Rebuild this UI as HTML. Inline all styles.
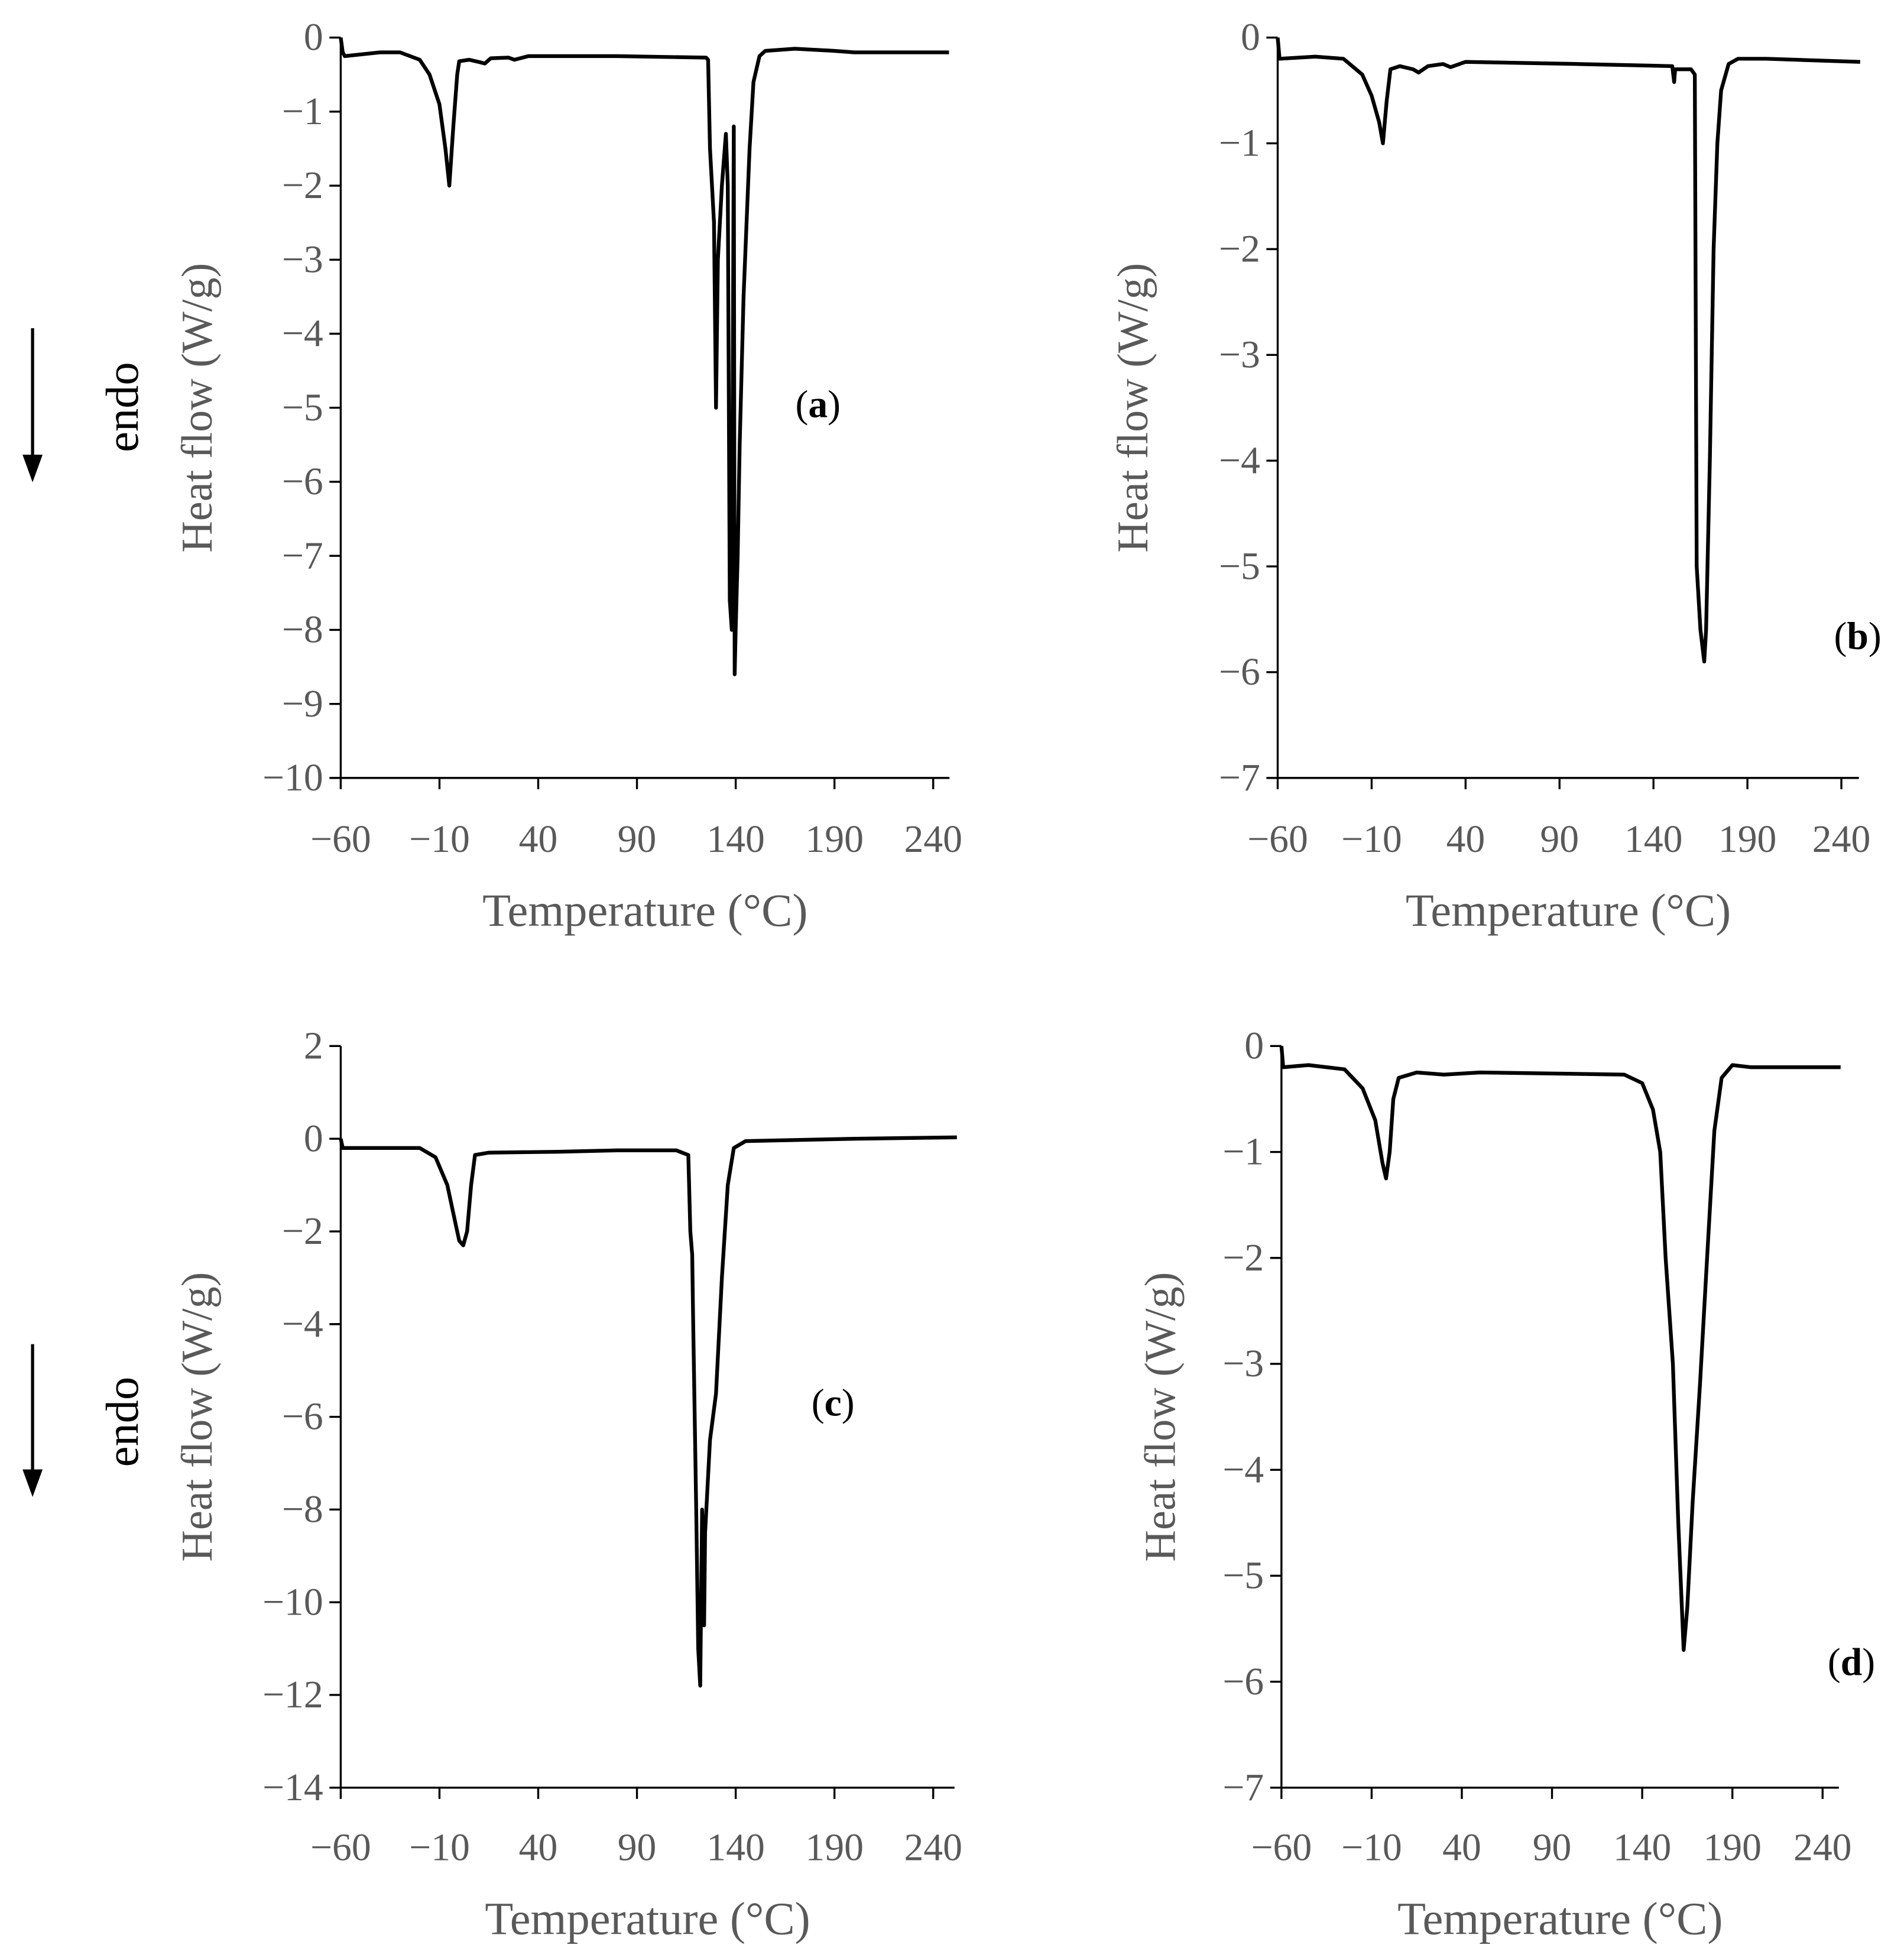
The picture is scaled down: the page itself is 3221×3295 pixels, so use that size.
<!DOCTYPE html>
<html><head><meta charset="utf-8"><style>
html,body{margin:0;padding:0;background:#fff;}
svg{display:block;}
text{font-family:"Liberation Serif",serif;}
</style></head><body>
<svg id="fig" width="3221" height="3295" viewBox="0 0 1520 1555" preserveAspectRatio="none" xmlns="http://www.w3.org/2000/svg"></svg>
<script>
// ---- data (temperature °C, heat flow W/g) ----
const xTicks = [-60,-10,40,90,140,190,240];
const aT = [-60,-59,-58,-40,-30,-20,-15,-10,-7,-5,-3,-1,0,5,10,13,16,25,28,35,80,125,126,127,129,130,131,133,135,136,137,138,139,139.5,140,141,142,144,147,149,152,155,170,190,200,248];
const aY = [0,-0.2,-0.25,-0.2,-0.2,-0.3,-0.5,-0.9,-1.5,-2.0,-1.2,-0.5,-0.32,-0.3,-0.33,-0.35,-0.28,-0.27,-0.3,-0.25,-0.25,-0.27,-0.3,-1.5,-2.5,-5.0,-3.0,-2.0,-1.3,-2.0,-7.6,-8.0,-1.2,-8.6,-8.0,-7.0,-5.5,-3.5,-1.5,-0.6,-0.25,-0.18,-0.15,-0.18,-0.2,-0.2];
const bT = [-60,-59,-40,-25,-15,-10,-6,-4,-2,0,5,12,15,20,28,32,40,100,150,151,151.5,160,162,163,165,167,168,170,172,174,176,180,185,200,250];
const bY = [0,-0.2,-0.18,-0.2,-0.35,-0.55,-0.8,-1.0,-0.6,-0.3,-0.27,-0.3,-0.33,-0.27,-0.25,-0.28,-0.23,-0.25,-0.27,-0.42,-0.3,-0.3,-0.35,-5.0,-5.6,-5.9,-5.6,-4.0,-2.0,-1.0,-0.5,-0.25,-0.2,-0.2,-0.23];
const cT = [-60,-59,-40,-20,-12,-6,-2,0,2,4,6,8,15,50,80,110,116,117,118,118.5,120,121,122,123,124,124.5,127,130,133,136,139,145,200,252];
const cY = [0,-0.2,-0.2,-0.2,-0.4,-1.0,-1.8,-2.2,-2.3,-2.0,-1.0,-0.35,-0.3,-0.28,-0.25,-0.25,-0.35,-2.0,-2.5,-4,-8,-11,-11.8,-8,-10.5,-8.5,-6.5,-5.5,-3,-1,-0.2,-0.05,0,0.03];
const dT = [-60,-59,-45,-25,-15,-8,-4,-2,0,2,5,15,30,50,130,140,146,150,153,157,160,163,165,168,172,176,180,184,190,200,250];
const dY = [0,-0.2,-0.18,-0.22,-0.4,-0.7,-1.1,-1.25,-1.0,-0.5,-0.3,-0.25,-0.27,-0.25,-0.27,-0.35,-0.6,-1.0,-2,-3,-4.5,-5.7,-5.3,-4.3,-3.2,-2,-0.8,-0.3,-0.18,-0.2,-0.2];
const aTicksY = [0,-1,-2,-3,-4,-5,-6,-7,-8,-9,-10];
const bTicksY = [0,-1,-2,-3,-4,-5,-6,-7];
const cTicksY = [2,0,-2,-4,-6,-8,-10,-12,-14];
const dTicksY = [0,-1,-2,-3,-4,-5,-6,-7];

const NS='http://www.w3.org/2000/svg';
const svg=document.getElementById('fig');
function mk(tag,attrs,parent){const e=document.createElementNS(NS,tag);for(const k in attrs)e.setAttribute(k,attrs[k]);(parent||svg).appendChild(e);return e;}
function fmt(v){return v<0?'\u2212'+Math.abs(v):String(v);}

const panels=[
 {id:'a',T:aT,Y:aY,yt:aTicksY,x0:272,x240:745,xEnd:758,yTop:30,yBot:621,ytx:158,label:[653,323],endo:true,ey:325,ay:[262,385],tty:727,tlx:670},
 {id:'b',T:bT,Y:bY,yt:bTicksY,x0:1020,x240:1470,xEnd:1484,yTop:30,yBot:621,ytx:905,label:[1483,508],endo:false,tty:727,tlx:670},
 {id:'c',T:cT,Y:cY,yt:cTicksY,x0:272,x240:745,xEnd:762,yTop:835,yBot:1427,ytx:158,label:[665,1120],endo:true,ey:1135,ay:[1073,1195],tty:1532,tlx:1475},
 {id:'d',T:dT,Y:dY,yt:dTicksY,x0:1023,x240:1455,xEnd:1468,yTop:835,yBot:1427,ytx:927,label:[1478,1327],endo:false,tty:1532,tlx:1475}
];
panels.forEach(p=>{
  const g=mk('g',{});
  
  
  const ymax=p.yt[0], ymin=p.yt[p.yt.length-1];
  const sx=t=>p.x0+(t+60)*(p.x240-p.x0)/300;
  const sy=v=>p.yTop+(ymax-v)*(p.yBot-p.yTop)/(ymax-ymin);
  const ya=mk('line',{x1:p.x0,y1:p.yTop,x2:p.x0,y2:p.yBot,stroke:'#000','stroke-width':1.6},g);
  
  
  const xa=mk('line',{x1:p.x0,y1:p.yBot,x2:p.xEnd,y2:p.yBot,stroke:'#000','stroke-width':1.6},g);
  
  
  p.yt.forEach(v=>{
    mk('line',{x1:p.x0-9,y1:sy(v),x2:p.x0,y2:sy(v),stroke:'#000','stroke-width':1.6},g);
    const t=mk('text',{x:p.x0-14,y:sy(v)+10,'text-anchor':'end','font-size':31,fill:'#595959'},g);
    t.textContent=fmt(v);
    
    
  });
  xTicks.forEach(v=>{
    mk('line',{x1:sx(v),y1:p.yBot,x2:sx(v),y2:p.yBot+9,stroke:'#000','stroke-width':1.6},g);
    const t=mk('text',{x:sx(v),y:p.tlx+10,'text-anchor':'middle','font-size':31,fill:'#595959'},g);
    t.textContent=fmt(v);
    
    
  });
  const xt=mk('text',{x:(p.x0+p.xEnd)/2,y:p.tty+12,'text-anchor':'middle','font-size':37,fill:'#595959'},g);
  xt.textContent='Temperature (\u00B0C)';
  
  
  const cy=(p.yTop+p.yBot)/2;
  const yt=mk('text',{x:0,y:0,'text-anchor':'middle','font-size':35,fill:'#595959',transform:`translate(${p.ytx+11},${cy}) rotate(-90)`},g);
  yt.textContent='Heat flow (W/g)';
  
  
  const pts=p.T.map((t,i)=>sx(t).toFixed(1)+','+sy(p.Y[i]).toFixed(1)).join(' ');
  const pl=mk('polyline',{points:pts,fill:'none',stroke:'#000','stroke-width':3,'stroke-linejoin':'round'},g);
  
  
  const lb=mk('text',{x:p.label[0],y:p.label[1]+10,'text-anchor':'middle','font-size':31,fill:'#000'},g);
  lb.innerHTML='(<tspan font-weight="bold">'+p.id+'</tspan>)';
  
  
  if(p.endo){
    const en=mk('text',{x:0,y:0,'text-anchor':'middle','font-size':37,fill:'#000',transform:`translate(${110},${p.ey}) rotate(-90)`},g);
    en.textContent='endo';
    
    
    const ar=mk('line',{x1:26,y1:p.ay[0],x2:26,y2:p.ay[1]-20,stroke:'#000','stroke-width':2.5},g);
    
    
    mk('polygon',{points:`18,${p.ay[1]-22} 34,${p.ay[1]-22} 26,${p.ay[1]}`,fill:'#000'},g);
  }
});
</script>
</body></html>
